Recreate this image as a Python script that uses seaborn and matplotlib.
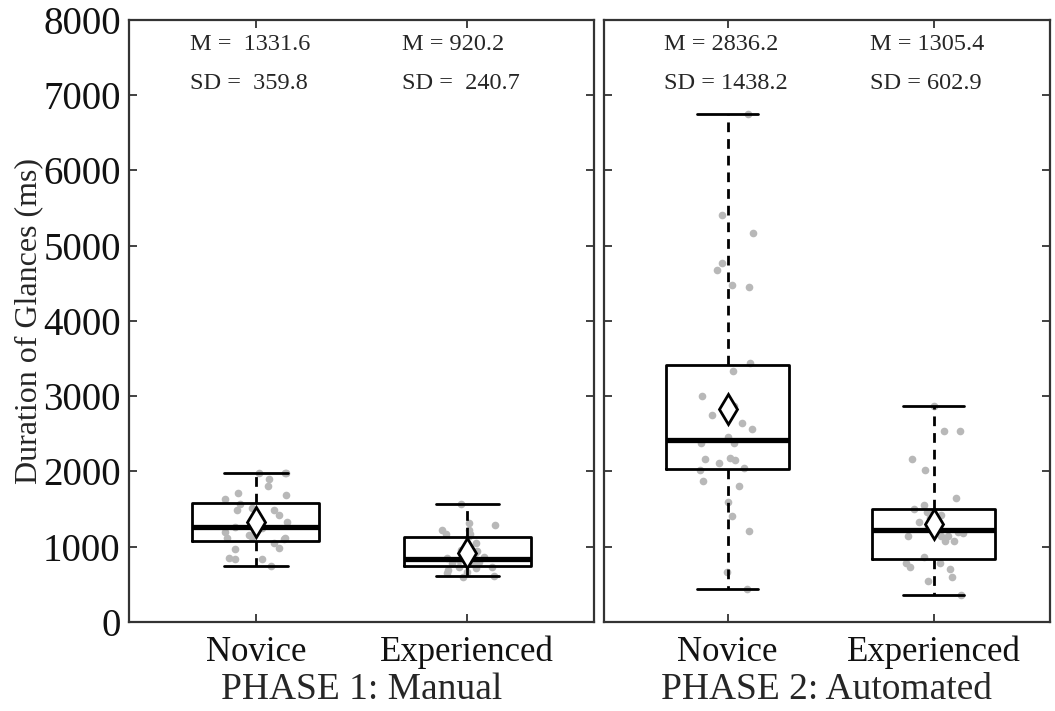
import numpy as np
import pandas as pd
import seaborn as sns
import matplotlib.pyplot as plt

# values
groups = ["Novice", "Experienced"]
phases = ["PHASE 1: Manual", "PHASE 2: Automated"]

p1_novice = [1976, 1976, 1976, 1896, 1811, 1710, 1683, 1634, 1564, 1511, 1484, 1484, 1422, 1333, 1267,
             1245, 1200, 1156, 1112, 1112, 1125, 1103, 1046, 979, 966, 846, 837, 837, 748]
p1_exper = [1564, 1311, 1289, 1223, 1223, 1169, 1169, 1143, 1046, 957, 944, 934, 921, 868, 846,
            824, 797, 797, 788, 780, 757, 735, 726, 713, 691, 669, 647, 607, 602]
p2_novice = [6751, 5404, 5174, 4775, 4673, 4474, 4452, 3437, 3336, 3007, 2870, 2755, 2645, 2561, 2454,
             2383, 2375, 2185, 2162, 2153, 2117, 2051, 2020, 1878, 1807, 1590, 1409, 1209, 668, 438]
p2_exper = [2870, 2534, 2534, 2166, 2016, 1643, 1555, 1502, 1462, 1462, 1420, 1387, 1333, 1276, 1245,
            1200, 1180, 1143, 1143, 1143, 1073, 1073, 859, 788, 780, 735, 700, 594, 549, 359]

# box statistics (per phase, per group)
q1 = [[1080, 744], [2029, 833]]
med = [[1266, 837], [2419, 1218]]
q3 = [[1585, 1134], [3415, 1497]]
whislo = [[748, 607], [438, 359]]
whishi = [[1984, 1564], [6751, 2870]]
means = [[1331.6, 920.2], [2836.2, 1305.4]]
sds = [[359.8, 240.7], [1438.2, 602.9]]
m_txt = [["M =  1331.6", "M = 920.2"], ["M = 2836.2", "M = 1305.4"]]
sd_txt = [["SD =  359.8", "SD =  240.7"], ["SD = 1438.2", "SD = 602.9"]]

rows = []
for ph, lists in zip(phases, [(p1_novice, p1_exper), (p2_novice, p2_exper)]):
    for g, vals in zip(groups, lists):
        for v in vals:
            rows.append({"phase": ph, "group": g, "value": v})
df = pd.DataFrame(rows)

sns.set_style("ticks")
plt.rcParams["font.family"] = ["Liberation Serif", "DejaVu Serif"]

np.random.seed(4)
fig = plt.figure(figsize=(10.55, 7.11), dpi=100)
ax1 = fig.add_axes([0.1223, 0.1252, 0.4408, 0.8467])
ax2 = fig.add_axes([0.5725, 0.1252, 0.4227, 0.8467])

for i, (ax, ph) in enumerate(zip([ax1, ax2], phases)):
    sub = df[df["phase"] == ph]
    sns.stripplot(data=sub, x="group", y="value", order=groups, color="#b8b8b8",
                  jitter=0.15, size=5.5, linewidth=0, ax=ax, zorder=1)
    stats = []
    for j in range(2):
        stats.append({"q1": q1[i][j], "med": med[i][j], "q3": q3[i][j],
                      "whislo": whislo[i][j], "whishi": whishi[i][j],
                      "mean": means[i][j], "fliers": []})
    ax.bxp(stats, positions=[0, 1], widths=0.6, capwidths=0.3, showmeans=True,
           patch_artist=False, manage_ticks=False,
           boxprops=dict(color="black", linewidth=2.0),
           medianprops=dict(color="black", linewidth=3.8),
           whiskerprops=dict(color="black", linewidth=2.0, linestyle=(0, (3.5, 2.5))),
           capprops=dict(color="black", linewidth=2.0),
           meanprops=dict(marker="d", markerfacecolor="white", markeredgecolor="black",
                          markeredgewidth=2.0, markersize=15),
           zorder=2)
    for j in range(2):
        ax.text(j - 0.31, 7670, m_txt[i][j], fontsize=17.5, ha="left", va="center")
        ax.text(j - 0.31, 7150, sd_txt[i][j], fontsize=17.5, ha="left", va="center")

    ax.set_ylim(0, 8000)
    ax.set_yticks(range(0, 8001, 1000))
    ax.set_xticks([0, 1])
    ax.set_xticklabels(groups)
    ax.set_xlabel(ph, fontsize=27, labelpad=2)
    ax.tick_params(direction="in", length=6, width=1.3, top=True, right=True,
                   colors="#333333", labelcolor="#111111")
    ax.tick_params(axis="x", labelsize=25, pad=10)
    ax.tick_params(axis="y", labelsize=28, pad=6)
    for s in ax.spines.values():
        s.set_linewidth(1.6)
        s.set_color("#333333")

ax1.set_xlim(-0.6, 1.6)
ax2.set_xlim(-0.6, 1.565)
ax1.set_ylabel("Duration of Glances (ms)", fontsize=23)
ax1.yaxis.set_label_coords(-0.185, 0.5)
ax2.set_ylabel("")
ax2.tick_params(axis="y", labelleft=False)

fig.savefig("out.png", dpi=100)
